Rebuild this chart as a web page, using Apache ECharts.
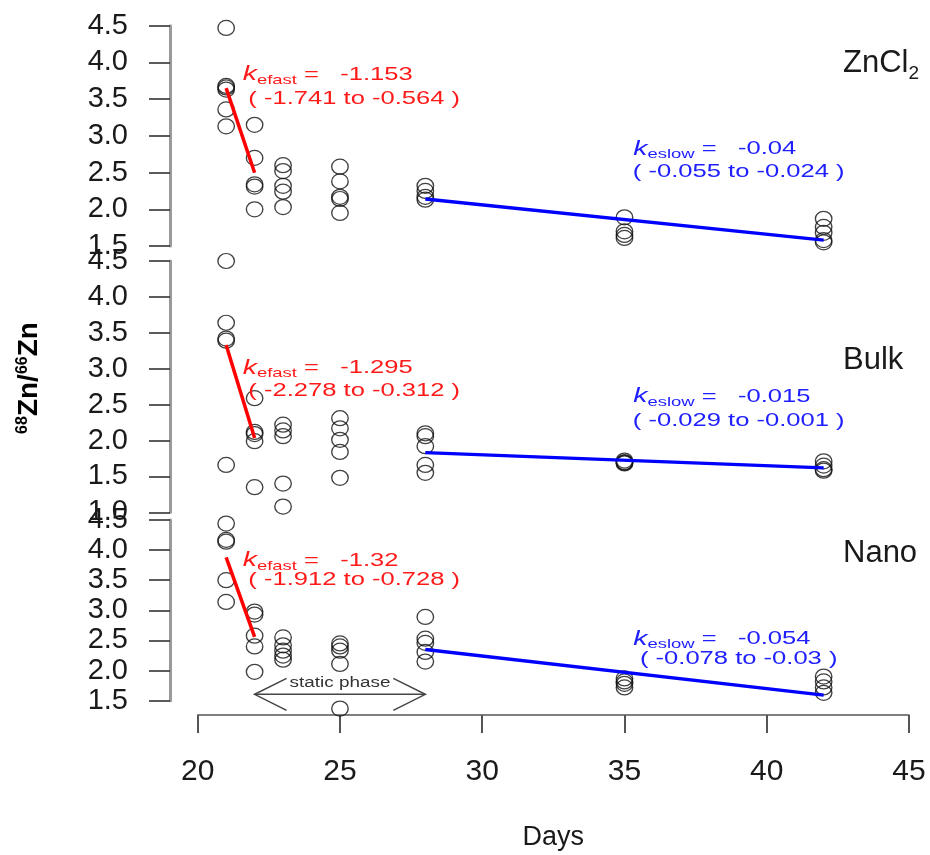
<!DOCTYPE html>
<html>
<head>
<meta charset="utf-8">
<script src="https://cdn.jsdelivr.net/npm/echarts@6/dist/echarts.min.js"></script>
<style>
  html, body { margin: 0; padding: 0; background: #ffffff; }
  #chart { width: 930px; height: 855px; }
</style>
</head>
<body>
<div id="chart"></div>
<script>
// ---- data ------------------------------------------------------------
const panelNames = ['ZnCl2', 'Bulk', 'Nano'];
const sampleDays = [21, 22, 23, 25, 28, 35, 42];
const dayTicks = [20, 45, 5];            // min, max, step of the Days axis
const ratioMin = [1.5, 1.0, 1.5];        // lower end of each ratio axis
const ratioMax = 4.5;
const ratioStep = 0.5;

// 68Zn/66Zn ratios per sampling day (one inner list per day in sampleDays)
const zncl2Ratios = [
  [4.47, 3.68, 3.66, 3.63, 3.36, 3.13],
  [3.15, 2.70, 2.34, 2.31, 2.00],
  [2.60, 2.52, 2.32, 2.24, 2.03],
  [2.58, 2.38, 2.17, 2.14, 1.95],
  [2.32, 2.25, 2.17, 2.13],
  [1.89, 1.70, 1.65, 1.61],
  [1.87, 1.76, 1.68, 1.58, 1.55]
];
const bulkRatios = [
  [4.50, 3.64, 3.42, 3.39, 1.66],
  [2.59, 2.12, 2.09, 1.99, 1.35],
  [2.22, 2.14, 2.06, 1.40, 1.08],
  [2.31, 2.17, 2.01, 1.84, 1.48],
  [2.10, 2.06, 1.92, 1.66, 1.55],
  [1.72, 1.70, 1.69, 1.68],
  [1.71, 1.65, 1.60, 1.58]
];
const nanoRatios = [
  [4.44, 4.17, 4.14, 3.50, 3.14],
  [2.98, 2.93, 2.58, 2.40, 1.98],
  [2.55, 2.42, 2.33, 2.25, 2.18],
  [2.45, 2.40, 2.33, 2.11, 1.37],
  [2.89, 2.53, 2.46, 2.31, 2.15],
  [1.87, 1.82, 1.78, 1.72],
  [1.90, 1.82, 1.72, 1.63]
];

// elimination rate constants with their intervals
const fastDays = [21, 22];
const fastStart = [3.65, 3.33, 3.88];
const kFast = [-1.153, -1.295, -1.32];
const kFastCI = [[-1.741, -0.564], [-2.278, -0.312], [-1.912, -0.728]];

const slowDays = [28, 42];
const slowStart = [2.14, 1.83, 2.35];
const kSlow = [-0.04, -0.015, -0.054];
const kSlowCI = [[-0.055, -0.024], [-0.029, -0.001], [-0.078, -0.03]];

const staticPhase = [22, 28];

// ---- layout ----------------------------------------------------------
const W = 930;
const plotLeft = 197.7, plotRight = 909;
const gridTop = [25.7, 261, 520];
const gridBottom = [246, 512.3, 700.7];
const xAxisY = 715;
const FONT = '"Liberation Sans", Arial, Helvetica, sans-serif';
const INK = '#1a1a1a';
const RED = '#ff1a1a';
const BLUE = '#2020ff';
const stretch = 1.42;

const ratioSets = [zncl2Ratios, bulkRatios, nanoRatios];
function flatten(sets) {
  const out = [];
  sets.forEach((vals, i) => vals.forEach(v => out.push([sampleDays[i], v])));
  return out;
}

const grids = [], xAxes = [], yAxes = [], series = [];
for (let i = 0; i < 3; i++) {
  grids.push({
    left: plotLeft, right: W - plotRight,
    top: gridTop[i], height: gridBottom[i] - gridTop[i],
    containLabel: false
  });
  const isBottom = i === 2;
  xAxes.push({
    type: 'value', gridIndex: i, show: isBottom,
    min: dayTicks[0], max: dayTicks[1], interval: dayTicks[2],
    position: 'bottom',
    offset: xAxisY - gridBottom[2],
    axisLine: { show: true, onZero: false, lineStyle: { color: '#555', width: 1.5 } },
    axisTick: { show: true, length: 18, lineStyle: { color: '#555', width: 2 } },
    axisLabel: { show: true, margin: 42, fontSize: 30, fontFamily: FONT, color: INK },
    splitLine: { show: false },
    name: isBottom ? 'Days' : '',
    nameLocation: 'middle', nameGap: 109,
    nameTextStyle: { fontSize: 27, fontFamily: FONT, color: INK }
  });
  yAxes.push({
    type: 'value', gridIndex: i,
    min: ratioMin[i], max: ratioMax, interval: ratioStep,
    position: 'left', offset: plotLeft - 170,
    axisLine: { show: true, onZero: false, lineStyle: { color: '#9a9a9a', width: 3 } },
    axisTick: { show: true, length: 21, lineStyle: { color: '#333', width: 1.6 } },
    axisLabel: {
      margin: 42, fontSize: 29, fontFamily: FONT, color: INK,
      formatter: v => v.toFixed(1)
    },
    splitLine: { show: false }
  });
  series.push({
    type: 'scatter', name: panelNames[i],
    xAxisIndex: i, yAxisIndex: i,
    data: flatten(ratioSets[i]),
    symbol: 'circle', symbolSize: [16.5, 15],
    itemStyle: { color: 'rgba(0,0,0,0)', borderColor: '#111', borderWidth: 1.3 },
    clip: false, silent: true, z: 3
  });
  series.push({
    type: 'line', name: panelNames[i] + ' fast',
    xAxisIndex: i, yAxisIndex: i,
    data: [[fastDays[0], fastStart[i]],
           [fastDays[1], fastStart[i] + kFast[i] * (fastDays[1] - fastDays[0])]],
    showSymbol: false, symbol: 'none', clip: false, silent: true,
    lineStyle: { color: '#ff0000', width: 3.5 }, z: 4
  });
  series.push({
    type: 'line', name: panelNames[i] + ' slow',
    xAxisIndex: i, yAxisIndex: i,
    data: [[slowDays[0], slowStart[i]],
           [slowDays[1], slowStart[i] + kSlow[i] * (slowDays[1] - slowDays[0])]],
    showSymbol: false, symbol: 'none', clip: false, silent: true,
    lineStyle: { color: '#0000ff', width: 3.3 }, z: 4
  });
}

const chart = echarts.init(document.getElementById('chart'), null, { renderer: 'canvas' });
chart.setOption({
  animation: false,
  backgroundColor: '#ffffff',
  grid: grids, xAxis: xAxes, yAxis: yAxes, series: series
});

// ---- annotations -----------------------------------------------------
function rateLine(sub, value, x, y, color) {
  return {
    type: 'text', x: x, y: y, scaleX: stretch, silent: true, z: 10,
    style: {
      text: '{k|k}{s|' + sub + '}{v| =   ' + value + '}',
      align: 'left', verticalAlign: 'middle', fill: color,
      rich: {
        k: { fontSize: 20, fontStyle: 'italic', fontFamily: FONT, fill: color, lineHeight: 22, verticalAlign: 'middle' },
        s: { fontSize: 13, fontFamily: FONT, fill: color, lineHeight: 24, verticalAlign: 'bottom' },
        v: { fontSize: 18, fontFamily: FONT, fill: color, lineHeight: 22, verticalAlign: 'middle' }
      }
    }
  };
}
function ciLine(ci, x, y, color) {
  return {
    type: 'text', x: x, y: y, scaleX: stretch, silent: true, z: 10,
    style: {
      text: '( ' + ci[0] + ' to ' + ci[1] + ' )',
      align: 'center', verticalAlign: 'middle',
      fontSize: 18, fontFamily: FONT, fill: color
    }
  };
}

const redL1 = [74.8, 368, 560.8], redL2 = [99.5, 391, 580];
const blueL1 = [149, 396.7, 639], blueL2 = [172, 421.5, 659];
const labelY = [63.3, 360, 553];
const panelLabels = ['{m|ZnCl}{sub|2}', '{m|Bulk}', '{m|Nano}'];

const graphics = [];
for (let i = 0; i < 3; i++) {
  graphics.push(rateLine('efast', kFast[i], 242.7, redL1[i], RED));
  graphics.push(ciLine(kFastCI[i], 354.2, redL2[i], RED));
  graphics.push(rateLine('eslow', kSlow[i], 633.3, blueL1[i], BLUE));
  graphics.push(ciLine(kSlowCI[i], 738.7, blueL2[i], BLUE));
  graphics.push({
    type: 'text', x: 843, y: labelY[i], silent: true,
    style: {
      text: panelLabels[i], align: 'left', verticalAlign: 'middle', fill: INK,
      rich: {
        m: { fontSize: 31, fontFamily: FONT, fill: INK, lineHeight: 32, verticalAlign: 'middle' },
        sub: { fontSize: 19, fontFamily: FONT, fill: INK, lineHeight: 40, verticalAlign: 'bottom' }
      }
    }
  });
}

// axis title of the ratio panels
graphics.push({
  type: 'text', x: 29, y: 378, rotation: Math.PI / 2, silent: true,
  style: {
    text: '{sup|68}{m|Zn/}{sup|66}{m|Zn}',
    align: 'center', verticalAlign: 'middle', fill: '#000',
    rich: {
      m: { fontSize: 28, fontWeight: 'bold', fontFamily: FONT, fill: '#000', lineHeight: 29, verticalAlign: 'middle' },
      sup: { fontSize: 16, fontWeight: 'bold', fontFamily: FONT, fill: '#000', lineHeight: 16, verticalAlign: 'top' }
    }
  }
});

// double-headed arrow marking the static phase in the Nano panel
const arrowY = 694.3;
const pa = chart.convertToPixel({ xAxisIndex: 2 }, staticPhase[0]);
const pb = chart.convertToPixel({ xAxisIndex: 2 }, staticPhase[1]);
const headDx = 32, headDy = 16;
const arrowStyle = { stroke: '#444', lineWidth: 1.5, fill: null };
graphics.push({ type: 'line', silent: true, shape: { x1: pa, y1: arrowY, x2: pb, y2: arrowY }, style: arrowStyle });
graphics.push({ type: 'polyline', silent: true,
  shape: { points: [[pa + headDx, arrowY - headDy], [pa, arrowY], [pa + headDx, arrowY + headDy]] }, style: arrowStyle });
graphics.push({ type: 'polyline', silent: true,
  shape: { points: [[pb - headDx, arrowY - headDy], [pb, arrowY], [pb - headDx, arrowY + headDy]] }, style: arrowStyle });
graphics.push({
  type: 'text', x: (pa + pb) / 2, y: 682.7, scaleX: 1.35, originX: 0, silent: true,
  style: { text: 'static phase', align: 'center', verticalAlign: 'middle', fontSize: 14, fontFamily: FONT, fill: '#333' }
});

chart.setOption({ graphic: graphics });
</script>
</body>
</html>
